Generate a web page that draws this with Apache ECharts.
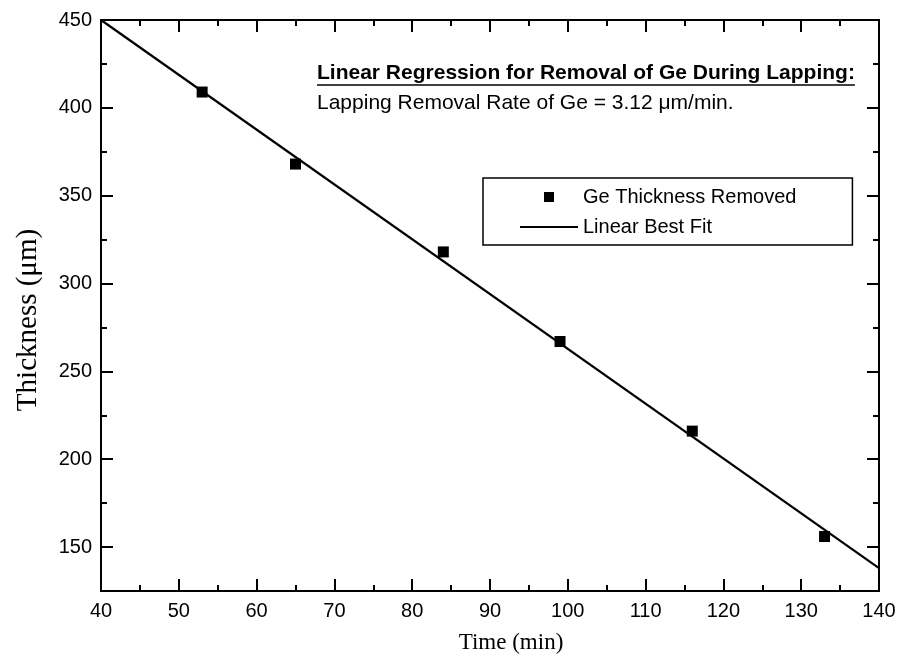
<!DOCTYPE html>
<html>
<head>
    <meta charset="utf-8">
    <title>Ge lapping removal</title>
    <script src="https://cdn.jsdelivr.net/npm/echarts@6/dist/echarts.min.js"></script>
    <style>
        html, body { margin: 0; padding: 0; background: #fff; }
        #main { width: 903px; height: 668px; }
    </style>
</head>
<body>
<div id="main"></div>
<script type="text/javascript">
    // data
    var timeMin = [53, 65, 84, 99, 116, 133];
    var thickness = [409, 368, 318, 267, 216, 156];
    // best fit line end points (slope -3.12 um/min)
    var fitTime = [40, 140];
    var fitThick = [450, 138];
    var yMajor = [150, 200, 250, 300, 350, 400, 450];
    var yMinor = [125, 175, 225, 275, 325, 375, 425];

    var sans = 'Liberation Sans';
    var serif = 'Liberation Serif';
    var title1 = 'Linear Regression for Removal of Ge During Lapping:';
    var title2 = 'Lapping Removal Rate of Ge = 3.12 \u03bcm/min.';

    // width of the bold heading, for the underline
    var cv = document.createElement('canvas').getContext('2d');
    cv.font = 'bold 21px ' + sans;
    var t1w = cv.measureText(title1).width;

    var scatterData = timeMin.map(function (t, i) { return [t, thickness[i]]; });
    var fitData = fitTime.map(function (t, i) { return [t, fitThick[i]]; });

    function xAx(pos, labels) {
        return {
            type: 'value', position: pos, min: 40, max: 140, interval: 10,
            axisLine: { show: false },
            axisTick: { inside: true, length: 12, lineStyle: { color: '#000', width: 2 } },
            minorTick: { show: true, splitNumber: 2, length: 6, lineStyle: { color: '#000', width: 2 } },
            axisLabel: { show: labels, color: '#000', fontFamily: sans, fontSize: 20, margin: 10 },
            splitLine: { show: false }
        };
    }
    function yAx(pos, ticks, len, labels) {
        return {
            type: 'value', position: pos, min: 125, max: 450,
            axisLine: { show: false },
            axisTick: { inside: true, length: len, customValues: ticks, lineStyle: { color: '#000', width: 2 } },
            axisLabel: { show: labels, customValues: ticks, color: '#000', fontFamily: sans, fontSize: 20, margin: 9 },
            splitLine: { show: false }
        };
    }

    var myChart = echarts.init(document.getElementById('main'));
    var option = {
        animation: false,
        backgroundColor: '#fff',
        grid: { left: 101, right: 24, top: 20, bottom: 77, show: true, borderColor: '#000', borderWidth: 2 },
        xAxis: [xAx('bottom', true), xAx('top', false)],
        yAxis: [
            yAx('left', yMajor, 12, true),
            yAx('left', yMinor, 6, false),
            yAx('right', yMajor, 12, false),
            yAx('right', yMinor, 6, false)
        ],
        legend: {
            orient: 'vertical', left: 483, top: 178,
            padding: [9, 56, 8, 37], itemGap: 10,
            itemWidth: 58, itemHeight: 10,
            borderColor: '#000', borderWidth: 1.5,
            textStyle: { color: '#000', fontFamily: sans, fontSize: 20, lineHeight: 20 },
            data: [
                { name: 'Ge Thickness Removed', icon: 'path://M0,0H10V10H0Z', itemStyle: { color: '#000', opacity: 1 } },
                { name: 'Linear Best Fit', icon: 'path://M0,4H58V6H0Z', itemStyle: { color: '#000', opacity: 1 } }
            ]
        },
        graphic: [
            { type: 'text', left: 317, top: 63, style: { text: title1, fill: '#000', font: 'bold 21px ' + sans } },
            { type: 'line', shape: { x1: 317, y1: 85, x2: 317 + t1w, y2: 85 }, style: { stroke: '#000', lineWidth: 1.5 } },
            { type: 'text', left: 317, top: 93, style: { text: title2, fill: '#000', font: '21px ' + sans } },
            { type: 'text', x: 511, y: 643, style: { text: 'Time (min)', fill: '#000', font: '23px ' + serif, align: 'center', verticalAlign: 'middle' } },
            { type: 'text', x: 28, y: 320, rotation: Math.PI / 2, style: { text: 'Thickness (\u03bcm)', fill: '#000', font: '29px ' + serif, align: 'center', verticalAlign: 'middle' } }
        ],
        series: [
            {
                name: 'Linear Best Fit', type: 'line', data: fitData,
                symbol: 'none', z: 2,
                lineStyle: { color: '#000', width: 2.2 }, itemStyle: { color: '#000' }
            },
            {
                name: 'Ge Thickness Removed', type: 'scatter', data: scatterData,
                symbol: 'rect', symbolSize: 11, z: 3,
                itemStyle: { color: '#000', opacity: 1 }
            }
        ]
    };
    myChart.setOption(option);
</script>
</body>
</html>
